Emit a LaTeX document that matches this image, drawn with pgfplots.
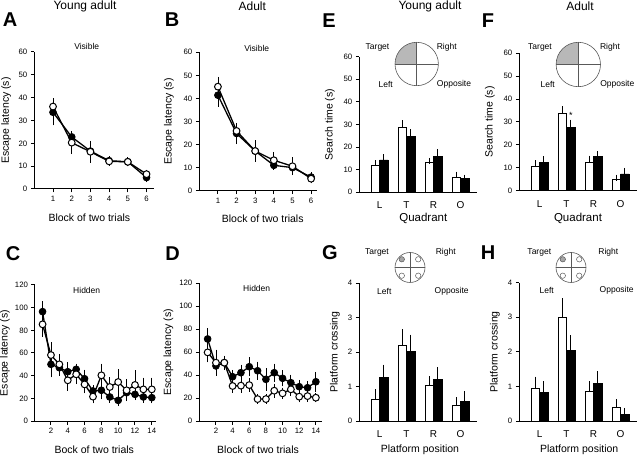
\documentclass[border=0pt]{standalone}
\usepackage{fontspec}
\setmainfont{Liberation Sans}
\usepackage{pgfplots}
\pgfplotsset{compat=1.18}
\newcommand\quadcircle[3]{%
\begin{scope}[shift={(#1pt,#2pt)}]
 \fill[black!28] (0,0) -- (-#3pt,0) arc[start angle=180,end angle=90,radius=#3pt] -- cycle;
 \draw[black!65, line width=0.6pt] (0,0) circle[radius=#3pt];
 \draw[black!65, line width=0.6pt] (-#3pt,0) -- (#3pt,0) (0,-#3pt) -- (0,#3pt);
\end{scope}}
\newcommand\platcircle[2]{%
\begin{scope}[shift={(#1pt,#2pt)}]
 \draw[black!65, line width=0.6pt] (0,0) circle[radius=15pt];
 \draw[black!65, line width=0.6pt] (-15pt,0) -- (15pt,0) (0,-15pt) -- (0,15pt);
 \filldraw[fill=black!35, draw=black!65, line width=0.5pt] (-8.2pt,8.2pt) circle[radius=2.7pt];
 \draw[black!65, line width=0.5pt] (8.2pt,8.2pt) circle[radius=2.7pt];
 \draw[black!65, line width=0.5pt] (-8.2pt,-8.2pt) circle[radius=2.7pt];
 \draw[black!65, line width=0.5pt] (8.2pt,-8.2pt) circle[radius=2.7pt];
\end{scope}}
\pgfplotsset{
  panel/.style={scale only axis, anchor=south west, clip=false,
    axis x line*=bottom, axis y line*=left,
    axis line style={line width=1pt,-},
    every tick/.style={black, line width=1pt},
    tick align=outside, major tick length=3.5pt,
    ticklabel style={font=\fontsize{7.8}{9}\selectfont},
    xlabel style={font=\fontsize{10.5}{12}\selectfont, anchor=center},
    ylabel style={font=\fontsize{10.5}{12}\selectfont, anchor=center},
    /pgf/number format/assume math mode=true},
  visible/.style={panel, ymin=0, ymax=60, ytick={0,10,...,60}, xmin=0, xtick={1,...,6},
    xlabel={Block of two trials}, ylabel={Escape latency (s)}},
  hidden/.style={panel, ymin=0, ymax=120, ytick={0,20,...,120}, xtick={2,4,...,14},
    ylabel={Escape latency (s)}},
  barpanel/.style={panel, ybar=0pt, bar width=8.5pt, xmin=0.25, xmax=4.6,
    xtick={1,2,3,4}, xticklabels={L,T,R,O}, major x tick style={draw=none},
    x tick label style={font=\fontsize{10}{12}\selectfont, yshift=-2.5pt}},
  filled/.style={black, line width=1.3pt, mark=*, mark size=3.4pt,
    mark options={fill=black, line width=0.8pt},
    error bars/.cd, y dir=both, y explicit,
    error bar style={line width=0.8pt, black}, error mark options={line width=0.8pt, mark size=2.3pt, black}},
  open/.style={black, line width=1.3pt, mark=*, mark size=3.4pt,
    mark options={fill=white, draw=black, line width=1pt},
    error bars/.cd, y dir=both, y explicit,
    error bar style={line width=0.8pt, black}, error mark options={line width=0.8pt, mark size=2.3pt, black}},
  whitebar/.style={fill=white, draw=black, line width=0.8pt,
    error bars/.cd, y dir=plus, y explicit,
    error bar style={line width=0.8pt, black}, error mark options={line width=0.8pt, mark size=3pt, black}},
  blackbar/.style={fill=black, draw=black, line width=0.8pt,
    error bars/.cd, y dir=plus, y explicit,
    error bar style={line width=0.8pt, black}, error mark options={line width=0.8pt, mark size=3pt, black}},
}
\begin{document}
\begin{tikzpicture}
\path[use as bounding box] (0pt,0pt) rectangle (640pt,458pt);
% ---------- A ----------
\begin{axis}[visible, at={(34.3pt,269pt)}, width=119.7pt, height=137pt, xmax=6.4,
  xlabel style={at={(axis description cs:0.46,-0.21)}},
  ylabel style={at={(axis description cs:-0.236,0.5)}}]
\addplot[filled] coordinates {(1,33.6) +- (0,4.7) (2,22.8) +- (0,1.2) (3,16.6) +- (0,1.5) (4,12.4) +- (0,1) (5,11.9) +- (0,1) (6,5.0) +- (0,1)};
\addplot[open] coordinates {(1,36.1) +- (0,2.7) (2,20.3) +- (0,4.0) (3,16.3) +- (0,3.8) (4,12.1) +- (0,1) (5,11.9) +- (0,1) (6,6.5) +- (0,1)};
\end{axis}
% ---------- B ----------
\begin{axis}[visible, at={(199.3pt,267.3pt)}, width=117.4pt, height=138.4pt, xmax=6.3,
  xlabel style={at={(axis description cs:0.54,-0.205)}},
  ylabel style={at={(axis description cs:-0.258,0.5)}}]
\addplot[filled] coordinates {(1,41.4) +- (0,3.9) (2,24.8) +- (0,3.6) (3,17.2) +- (0,3.6) (4,11.0) +- (0,1) (5,10.0) +- (0,1) (6,5.9) +- (0,1)};
\addplot[open] coordinates {(1,45.1) +- (0,3.3) (2,25.9) +- (0,2) (3,17.2) +- (0,2.9) (4,13.2) +- (0,2.6) (5,10.6) +- (0,2.9) (6,5.2) +- (0,1)};
\end{axis}
% ---------- C ----------
\begin{axis}[hidden, at={(35pt,37pt)}, width=121pt, height=136pt, xmin=0.1, xmax=14.5,
  xlabel={Bock of two trials},
  xlabel style={at={(axis description cs:0.49,-0.213)}},
  ylabel style={at={(axis description cs:-0.248,0.5)}}]
\addplot[filled] coordinates {(1,96.5) +- (0,7) (2,50) +- (0,9.4) (3,47) +- (0,5) (4,43.5) +- (0,6.5) (5,45.6) +- (0,3) (6,37.3) +- (0,5.9) (7,26.5) +- (0,3) (8,27.1) +- (0,5.9) (9,21.2) +- (0,3) (10,18.2) +- (0,3) (11,25) +- (0,3) (12,23.5) +- (0,3) (13,21.2) +- (0,3) (14,20.6) +- (0,3)};
\addplot[open] coordinates {(1,85.3) +- (0,8.8) (2,58.2) +- (0,9.4) (3,50) +- (0,7.3) (4,35.9) +- (0,7.1) (5,41.2) +- (0,6.7) (6,32.3) +- (0,5.8) (7,21.5) +- (0,3.9) (8,40.3) +- (0,8.2) (9,30) +- (0,6.5) (10,34.4) +- (0,9.1) (11,27.1) +- (0,7.6) (12,31.8) +- (0,10.8) (13,27.9) +- (0,8.3) (14,27.9) +- (0,8.3)};
\end{axis}
% ---------- D ----------
\begin{axis}[hidden, at={(199.3pt,37pt)}, width=122.4pt, height=137.7pt, xmin=0, xmax=14.7,
  xlabel={Block of two trials},
  xlabel style={at={(axis description cs:0.48,-0.21)}},
  ylabel style={at={(axis description cs:-0.253,0.5)}}]
\addplot[filled] coordinates {(1,71.5) +- (0,7.2) (2,48) +- (0,5) (3,50.8) +- (0,4) (4,38.6) +- (0,4) (5,42.1) +- (0,5) (6,47.3) +- (0,6.4) (7,43.8) +- (0,6) (8,36.3) +- (0,7.8) (9,42.1) +- (0,6) (10,37.2) +- (0,5) (11,33.4) +- (0,5) (12,29.9) +- (0,4) (13,29) +- (0,4) (14,34.2) +- (0,6.7)};
\addplot[open] coordinates {(1,59.8) +- (0,6.7) (2,50.8) +- (0,9.3) (3,50.8) +- (0,4) (4,30.5) +- (0,4) (5,30.8) +- (0,4) (6,31.3) +- (0,4) (7,19.1) +- (0,2) (8,19.1) +- (0,2) (9,26.4) +- (0,4) (10,24.1) +- (0,3) (11,27.6) +- (0,4) (12,21.2) +- (0,3) (13,21.7) +- (0,3) (14,20.3) +- (0,2)};
\end{axis}
% ---------- E ----------
\begin{axis}[barpanel, at={(359.3pt,265.7pt)}, width=117.4pt, height=135.6pt,
  ymin=0, ymax=60, ytick={0,10,...,60},
  xlabel={Quadrant}, ylabel={Search time (s)},
  xlabel style={at={(axis description cs:0.545,-0.19)}, font=\fontsize{11.5}{12}\selectfont},
  ylabel style={at={(axis description cs:-0.25,0.5)}}]
\addplot[whitebar] coordinates {(1,11.8) +- (0,1.0) (2,28.9) +- (0,1.6) (3,13.4) +- (0,0.5) (4,6.6) +- (0,1.2)};
\addplot[blackbar] coordinates {(1,14.3) +- (0,1.2) (2,24.9) +- (0,1.6) (3,15.8) +- (0,1.9) (4,6.2) +- (0,0.3)};
\end{axis}
% ---------- F ----------
\begin{axis}[barpanel, at={(519.3pt,267.3pt)}, width=117.4pt, height=137.4pt,
  ymin=0, ymax=60, ytick={0,10,...,60},
  xlabel={Quadrant}, ylabel={Search time (s)},
  xlabel style={at={(axis description cs:0.5,-0.2)}, font=\fontsize{11.5}{12}\selectfont},
  ylabel style={at={(axis description cs:-0.25,0.5)}}]
\addplot[whitebar] coordinates {(1,10.5) +- (0,1.5) (2,33.8) +- (0,1.7) (3,12.5) +- (0,1.5) (4,5.1) +- (0,0.6)};
\addplot[blackbar] coordinates {(1,12.5) +- (0,1.2) (2,27.7) +- (0,2.0) (3,14.8) +- (0,1.2) (4,7.3) +- (0,1.4)};
\node[font=\fontsize{9}{9}\selectfont, xshift=4.25pt, anchor=south] at (axis cs:2,30) {*};
\end{axis}
% ---------- G ----------
\begin{axis}[barpanel, at={(359.3pt,37pt)}, width=117.4pt, height=137.7pt,
  ymin=0, ymax=4, ytick={0,1,...,4},
  xlabel={Platform position}, ylabel={Platform crossing},
  xlabel style={at={(axis description cs:0.517,-0.21)}},
  ylabel style={at={(axis description cs:-0.207,0.5)}}]
\addplot[whitebar] coordinates {(1,0.64) +- (0,0.19) (2,2.19) +- (0,0.39) (3,1.02) +- (0,0.19) (4,0.46) +- (0,0.15)};
\addplot[blackbar] coordinates {(1,1.27) +- (0,0.28) (2,2.01) +- (0,0.41) (3,1.2) +- (0,0.28) (4,0.56) +- (0,0.22)};
\end{axis}
% ---------- H ----------
\begin{axis}[barpanel, at={(519.3pt,37pt)}, width=117.4pt, height=138.3pt,
  ymin=0, ymax=4, ytick={0,1,...,4},
  xlabel={Platform position}, ylabel={Platform crossing},
  xlabel style={at={(axis description cs:0.51,-0.21)}},
  ylabel style={at={(axis description cs:-0.207,0.5)}}]
\addplot[whitebar] coordinates {(1,0.94) +- (0,0.26) (2,3.0) +- (0,0.47) (3,0.87) +- (0,0.19) (4,0.39) +- (0,0.15)};
\addplot[blackbar] coordinates {(1,0.83) +- (0,0.23) (2,2.05) +- (0,0.34) (3,1.09) +- (0,0.26) (4,0.2) +- (0,0.09)};
\end{axis}
% ---------- titles and letters ----------
\begin{scope}[every node/.style={font=\fontsize{12}{14}\selectfont}]
\node at (85pt,452pt) {Young adult};
\node at (252.3pt,452pt) {Adult};
\node at (430pt,452pt) {Young adult};
\node at (580pt,452pt) {Adult};
\end{scope}
\begin{scope}[every node/.style={font=\fontsize{20}{22}\selectfont\bfseries}]
\node at (10pt,438pt) {A};
\node at (172pt,438pt) {B};
\node at (13pt,204pt) {C};
\node at (172.5pt,204pt) {D};
\node at (329pt,437pt) {E};
\node at (488pt,437pt) {F};
\node at (330pt,205pt) {G};
\node at (488pt,205pt) {H};
\end{scope}
\begin{scope}[every node/.style={font=\fontsize{8.5}{10}\selectfont}]
\node at (86.7pt,411.3pt) {Visible};
\node at (256.7pt,409.7pt) {Visible};
\node at (86.7pt,168pt) {Hidden};
\node at (256.7pt,169.7pt) {Hidden};
\end{scope}
% ---------- insets ----------
\quadcircle{416.7}{394}{21.7}
\quadcircle{578.3}{393.5}{22.2}
\platcircle{410}{190.5}
\platcircle{571}{190.5}
\begin{scope}[every node/.style={font=\fontsize{8.5}{10}\selectfont}]
\node at (377.5pt,410.7pt) {Target};
\node at (446.7pt,410.7pt) {Right};
\node at (385.7pt,374pt) {Left};
\node at (454pt,374pt) {Opposite};
\node at (540pt,410.7pt) {Target};
\node at (610pt,410.7pt) {Right};
\node at (547.7pt,374pt) {Left};
\node at (617.3pt,374pt) {Opposite};
\node at (377pt,205.7pt) {Target};
\node at (445.7pt,205.7pt) {Right};
\node at (384.3pt,167pt) {Left};
\node at (451.7pt,167pt) {Opposite};
\node at (539.3pt,205.7pt) {Target};
\node at (608.3pt,205.7pt) {Right};
\node at (546.7pt,168pt) {Left};
\node at (616.7pt,168pt) {Opposite};
\end{scope}
\end{tikzpicture}
\end{document}
